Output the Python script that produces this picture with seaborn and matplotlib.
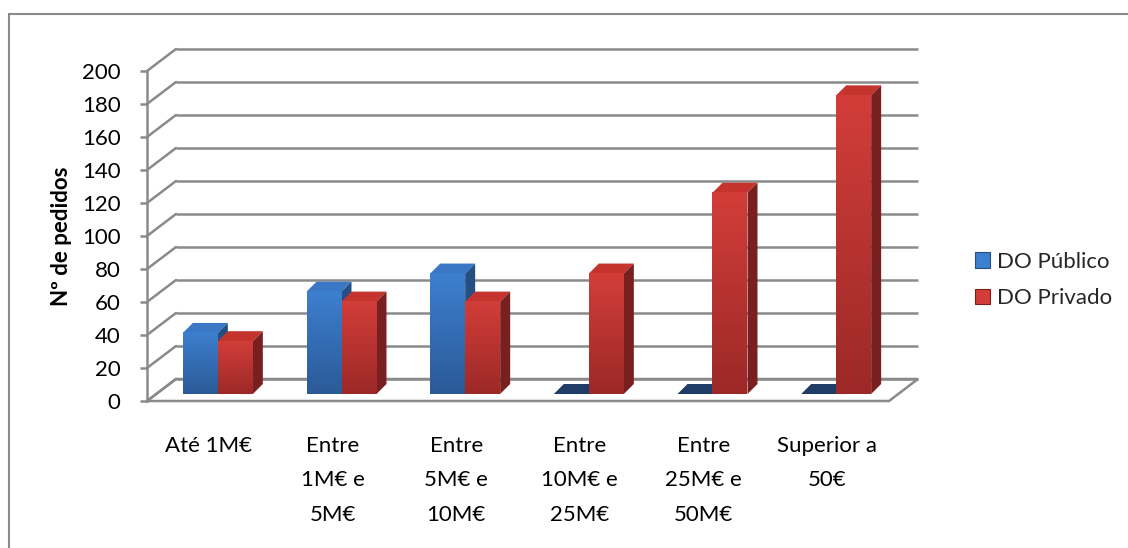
import numpy as np
import pandas as pd
import seaborn as sns
import matplotlib
matplotlib.use("Agg")
import matplotlib.pyplot as plt
from matplotlib.patches import Polygon, Rectangle, Patch
from matplotlib.transforms import ScaledTranslation
from matplotlib.colors import LinearSegmentedColormap

# ---- data -------------------------------------------------------------
categories = ["Até 1M€", "Entre\n1M€ e\n5M€", "Entre\n5M€ e\n10M€",
              "Entre\n10M€ e\n25M€", "Entre\n25M€ e\n50M€", "Superior a\n50€"]
series = ["DO Público", "DO Privado"]
publico = [37, 62, 73, 0, 0, 0]
privado = [32, 56, 56, 73, 122, 181]
yticks = list(range(0, 201, 20))

# ---- style --------------------------------------------------------------
sns.set_theme(style="white")
plt.rcParams["font.family"] = ["Lato", "DejaVu Sans"]
FS = 16

GRID = "#8a8a8a"
front_cols = {"DO Público": ("#3d7fcf", "#2b5a97"), "DO Privado": ("#d23d39", "#9c2927")}
side_cols = {"DO Público": "#254f82", "DO Privado": "#77201f"}
top_cols = {"DO Público": "#3a78c6", "DO Privado": "#c5332f"}
flat_cols = {"DO Público": "#1f3d66", "DO Privado": "#6a1c1b"}

W, H, DPI = 1128, 548, 100
fig = plt.figure(figsize=(W / DPI, H / DPI), dpi=DPI)


def frame(x0, y0, x1, y1):
    return [x0 / W, 1 - y1 / H, (x1 - x0) / W, (y1 - y0) / H]


ax = fig.add_axes(frame(147, 71, 889, 401))

df = pd.DataFrame({
    "categoria": categories * 2,
    "serie": [series[0]] * len(categories) + [series[1]] * len(categories),
    "pedidos": publico + privado,
})

sns.barplot(data=df, x="categoria", y="pedidos", hue="serie", hue_order=series,
            palette=[front_cols[s][0] for s in series], width=0.566,
            saturation=1, linewidth=0, legend=False, ax=ax)

ax.set_xlim(-0.5, len(categories) - 0.5)
ax.set_ylim(0, 200)

# pixel -> data conversion factors
fig.canvas.draw()
bb = ax.get_window_extent()
ppx = bb.width / (ax.get_xlim()[1] - ax.get_xlim()[0])
ppy = bb.height / (ax.get_ylim()[1] - ax.get_ylim()[0])

# depth of the back wall and of the bars (in pixels)
wall_dx, wall_dy = 29, 22
bar_dx, bar_dy = 10, 10
shift = ax.transData + ScaledTranslation(9 / DPI, 7 / DPI, fig.dpi_scale_trans)

x_lo, x_hi = ax.get_xlim()
bdx, bdy = wall_dx / ppx, wall_dy / ppy

# floor
floor = Polygon([(x_lo, 0), (x_hi, 0), (x_hi + bdx, bdy), (x_lo + bdx, bdy)],
                closed=True, facecolor="white", edgecolor=GRID, lw=1.8,
                clip_on=False, zorder=0.5)
ax.add_patch(floor)

# back wall gridlines and the diagonal connectors on the side wall
for v in yticks:
    ax.plot([x_lo + bdx, x_hi + bdx], [v + bdy, v + bdy], color=GRID, lw=1.8,
            clip_on=False, zorder=0.6, solid_capstyle="butt")
    ax.plot([x_lo, x_lo + bdx], [v, v + bdy], color=GRID, lw=1.8,
            clip_on=False, zorder=0.6)

# 3D faces for every bar
hue_of = {}
n = len(categories)
for i, p in enumerate(ax.patches[:2 * n]):
    hue_of[id(p)] = series[i // n]

bars = sorted(ax.patches[:2 * n], key=lambda p: p.get_x())
ddx, ddy = bar_dx / ppx, bar_dy / ppy
for k, p in enumerate(bars):
    s = hue_of[id(p)]
    x0, w, h = p.get_x(), p.get_width(), p.get_height()
    x1 = x0 + w
    z = 2 + 0.01 * k
    p.set_transform(shift)
    p.set_zorder(z + 0.005)
    p.set_clip_on(False)
    top_c = top_cols[s] if h > 0 else flat_cols[s]
    top = Polygon([(x0, h), (x1, h), (x1 + ddx, h + ddy), (x0 + ddx, h + ddy)],
                  closed=True, facecolor=top_c, edgecolor="none",
                  transform=shift, zorder=z, clip_on=False)
    ax.add_patch(top)
    if h > 0:
        side = Polygon([(x1, 0), (x1 + ddx, ddy), (x1 + ddx, h + ddy), (x1, h)],
                       closed=True, facecolor=side_cols[s], edgecolor="none",
                       transform=shift, zorder=z, clip_on=False)
        ax.add_patch(side)
        cmap = LinearSegmentedColormap.from_list(s, [front_cols[s][1], front_cols[s][0]])
        grad = np.linspace(0, 1, 64).reshape(-1, 1)
        img = ax.imshow(grad, cmap=cmap, extent=(x0, x1, 0, h), origin="lower",
                        aspect="auto", interpolation="bicubic",
                        zorder=z + 0.006, clip_on=False)
        img.set_transform(shift)

ax.set_xlim(x_lo, x_hi)
ax.set_ylim(0, 200)

# axes, ticks and labels
for side_name in ["top", "right", "bottom"]:
    ax.spines[side_name].set_visible(False)
ax.spines["left"].set_color(GRID)
ax.spines["left"].set_linewidth(1.8)
ax.set_yticks(yticks)
ax.tick_params(axis="y", left=True, length=5, width=1.8, color=GRID,
               direction="out", pad=14, labelsize=FS, labelcolor="black")
ax.tick_params(axis="x", bottom=False, pad=19, labelsize=FS, labelcolor="black")
for lab in ax.get_xticklabels():
    lab.set_linespacing(1.9)
    lab.set_va("top")
    lab.set_ha("center")
ax.set_xlabel("")
ax.set_ylabel("")
fig.text(62 / W, 1 - 236 / H, "Nº de pedidos", rotation=90, ha="center",
         va="center", fontsize=FS, fontweight="bold", color="black")
ax.set_facecolor("none")

# legend
handles = [Patch(facecolor=front_cols[s][0], edgecolor=side_cols[s], lw=0.8, label=s)
           for s in series]
fig.legend(handles=handles, loc="center left", bbox_to_anchor=(966 / W, 1 - 280 / H),
           frameon=False, fontsize=FS, handlelength=0.7, handleheight=0.7,
           handletextpad=0.3, labelspacing=0.75, borderaxespad=0)

# chart area border
fig.patches.append(Rectangle((8.5 / W, -0.05), 1.2, 1 - 14 / H + 0.05,
                             transform=fig.transFigure, facecolor="none",
                             edgecolor=GRID, lw=1.5, zorder=0))

fig.savefig("out.png", dpi=DPI)
